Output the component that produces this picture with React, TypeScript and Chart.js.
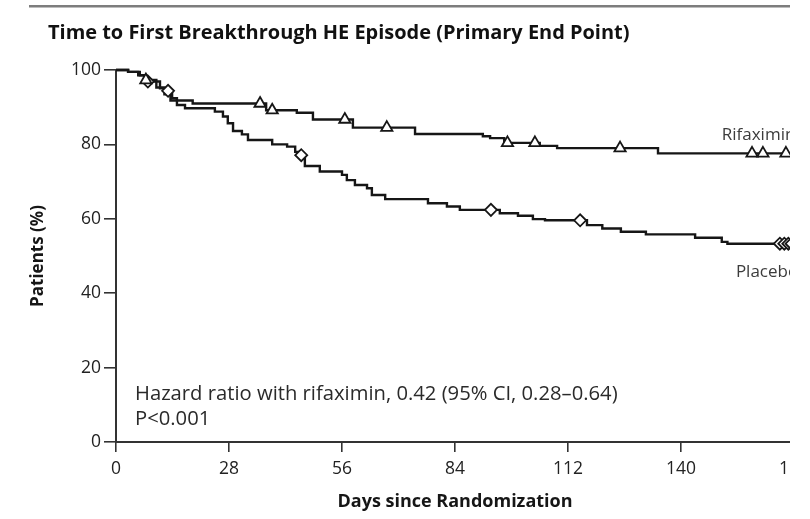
import React, { useEffect, useRef } from 'react';
import { Chart, registerables } from 'chart.js';

Chart.register(...registerables);

// ---------- data ----------
const xTickDays = [0, 28, 56, 84, 112, 140, 168];
const yTickValues = [0, 20, 40, 60, 80, 100];

const rifaximinDays = [0, 3, 5.5, 7, 10, 12, 13.5, 19, 37.2, 44.8, 48.8, 58.7, 74.1, 90.9, 92.7, 96.2, 105, 109.3, 134.3, 168];
const rifaximinPct = [100, 99.5, 98.6, 97.3, 95.3, 93.5, 91.8, 91.0, 89.2, 88.5, 86.7, 84.5, 82.8, 82.2, 81.7, 80.4, 79.6, 79.0, 77.6, 77.6];
const rifaximinCensorDays = [7.4, 35.7, 38.7, 56.7, 67.1, 97, 103.8, 124.9, 157.6, 160.3, 166];
const rifaximinCensorPct = [97.3, 91.0, 89.2, 86.7, 84.5, 80.4, 80.4, 79.0, 77.6, 77.6, 77.6];

const placeboDays = [0, 3, 5.9, 7.5, 10.9, 12.5, 13.9, 15.1, 17.1, 24.5, 26.5, 27.7, 29, 31.2, 32.7, 38.7, 42.4, 44.4, 45.6, 46.8, 50.5, 56, 57.2, 59.2, 62.2, 63.4, 66.7, 77.3, 82, 85.2, 95.1, 99.6, 103.3, 106.3, 116.7, 120.5, 125.1, 131.3, 143.5, 150.1, 151.5, 168];
const placeboPct = [100, 99.5, 98.6, 96.9, 95.1, 94.4, 92.4, 90.6, 89.7, 88.8, 87.5, 85.7, 83.6, 82.7, 81.2, 80.0, 79.4, 78.0, 77.1, 74.2, 72.7, 71.8, 70.4, 69.1, 68.2, 66.4, 65.3, 64.2, 63.3, 62.4, 61.5, 60.8, 59.9, 59.6, 58.3, 57.4, 56.5, 55.8, 54.9, 53.8, 53.3, 53.3];
const placeboCensorDays = [7.9, 12.9, 45.9, 92.9, 115, 164.5, 165.6, 166.6, 167.4];
const placeboCensorPct = [96.9, 94.4, 77.1, 62.4, 59.6, 53.3, 53.3, 53.3, 53.3];

const TITLE = 'Time to First Breakthrough HE Episode (Primary End Point)';
const HR_TEXT = 'Hazard ratio with rifaximin, 0.42 (95% CI, 0.28\u20130.64)';
const P_TEXT = 'P<0.001';
const SERIES_NAMES = ['Rifaximin', 'Placebo'];

const FONT = '"Open Sans", "Noto Sans", "DejaVu Sans", sans-serif';
const INK = '#161616';

function pts(xs: number[], ys: number[]) {
  return xs.map((x, i) => ({ x, y: ys[i] }));
}

function fitText(ctx: CanvasRenderingContext2D, text: string, x: number, y: number, width: number, weight: string, base: number) {
  ctx.font = `${weight} ${base}px ${FONT}`;
  const w = ctx.measureText(text).width;
  const size = Math.max(8, Math.min(base * 1.3, (base * width) / w));
  ctx.font = `${weight} ${size.toFixed(2)}px ${FONT}`;
  ctx.fillText(text, x, y);
}

const textPlugin = {
  id: 'keText',
  afterDraw(chart: any) {
    const { ctx } = chart;
    const xs = chart.scales.x;
    const ys = chart.scales.y;
    ctx.save();
    // top rule
    ctx.fillStyle = '#7d7d7d';
    ctx.fillRect(29, 5, 820, 2.5);
    // title
    ctx.fillStyle = '#111';
    ctx.textAlign = 'left';
    ctx.textBaseline = 'alphabetic';
    fitText(ctx, TITLE, 48, 39, 582, '700', 19);
    // hazard ratio annotation
    ctx.fillStyle = '#2a2a2a';
    fitText(ctx, HR_TEXT, 135, 400, 483, '400', 16);
    ctx.fillText(P_TEXT, 135, 425);
    // series labels
    ctx.fillStyle = '#3c3c3c';
    ctx.font = `400 17px ${FONT}`;
    ctx.fillText(SERIES_NAMES[0], xs.getPixelForValue(150.1), ys.getPixelForValue(81.3));
    ctx.fillText(SERIES_NAMES[1], xs.getPixelForValue(153.6), ys.getPixelForValue(44.4));
    ctx.restore();
  },
};

export default function App() {
  const ref = useRef<HTMLCanvasElement | null>(null);

  useEffect(() => {
    if (!ref.current) return;
    const tickFont = { family: FONT, size: 17.5 };
    const chart = new Chart(ref.current, {
      type: 'line',
      data: {
        datasets: [
          {
            label: 'Rifaximin censored',
            data: pts(rifaximinCensorDays, rifaximinCensorPct),
            showLine: false,
            pointStyle: 'triangle',
            pointRadius: 6.5,
            pointBorderWidth: 1.8,
            pointBackgroundColor: '#fff',
            pointBorderColor: INK,
            order: 0,
            clip: false,
          } as any,
          {
            label: 'Placebo censored',
            data: pts(placeboCensorDays, placeboCensorPct),
            showLine: false,
            pointStyle: 'rectRot',
            pointRadius: 6,
            pointBorderWidth: 1.8,
            pointBackgroundColor: '#fff',
            pointBorderColor: INK,
            order: 0,
            clip: false,
          } as any,
          {
            label: SERIES_NAMES[0],
            data: pts(rifaximinDays, rifaximinPct),
            stepped: true,
            borderColor: INK,
            borderWidth: 2.4,
            pointRadius: 0,
            fill: false,
            order: 1,
            clip: false,
          } as any,
          {
            label: SERIES_NAMES[1],
            data: pts(placeboDays, placeboPct),
            stepped: true,
            borderColor: INK,
            borderWidth: 2.4,
            pointRadius: 0,
            fill: false,
            order: 1,
            clip: false,
          } as any,
        ],
      },
      options: {
        animation: false,
        responsive: false,
        devicePixelRatio: 1,
        layout: { padding: { top: 70, right: 46, bottom: 0, left: 0 } },
        plugins: { legend: { display: false }, tooltip: { enabled: false }, title: { display: false } },
        scales: {
          x: {
            type: 'linear',
            min: xTickDays[0],
            max: xTickDays[xTickDays.length - 1],
            afterBuildTicks: (s: any) => {
              s.ticks = xTickDays.map((v) => ({ value: v }));
            },
            ticks: { color: '#222', font: tickFont, padding: 7, maxRotation: 0, autoSkip: false },
            grid: { drawOnChartArea: false, drawTicks: true, tickLength: 10, color: '#333', lineWidth: 1.6 },
            border: { display: true, color: '#333', width: 2 },
            title: {
              display: true,
              text: 'Days since Randomization',
              color: '#161616',
              font: { family: FONT, size: 18, weight: 'bold' },
              padding: { top: 0, bottom: 6 },
            },
            afterFit: (s: any) => {
              s.height = 77;
            },
          },
          y: {
            type: 'linear',
            min: yTickValues[0],
            max: yTickValues[yTickValues.length - 1],
            afterBuildTicks: (s: any) => {
              s.ticks = yTickValues.map((v) => ({ value: v }));
            },
            ticks: { color: '#222', font: tickFont, padding: 3 },
            grid: { drawOnChartArea: false, drawTicks: true, tickLength: 12, color: '#333', lineWidth: 1.6 },
            border: { display: true, color: '#333', width: 2 },
            title: {
              display: true,
              text: 'Patients (%)',
              color: '#161616',
              font: { family: FONT, size: 17, weight: 'bold' },
              padding: { top: 28, bottom: 0 },
            },
            afterFit: (s: any) => {
              s.width = 116;
            },
          },
        },
      } as any,
      plugins: [textPlugin],
    });
    return () => chart.destroy();
  }, []);

  return (
    <div style={{ position: 'absolute', left: 0, top: 0, width: 790, height: 519, overflow: 'hidden', background: '#fff' }}>
      <canvas ref={ref} width={840} height={519} style={{ display: 'block', width: 840, height: 519 }} />
    </div>
  );
}
